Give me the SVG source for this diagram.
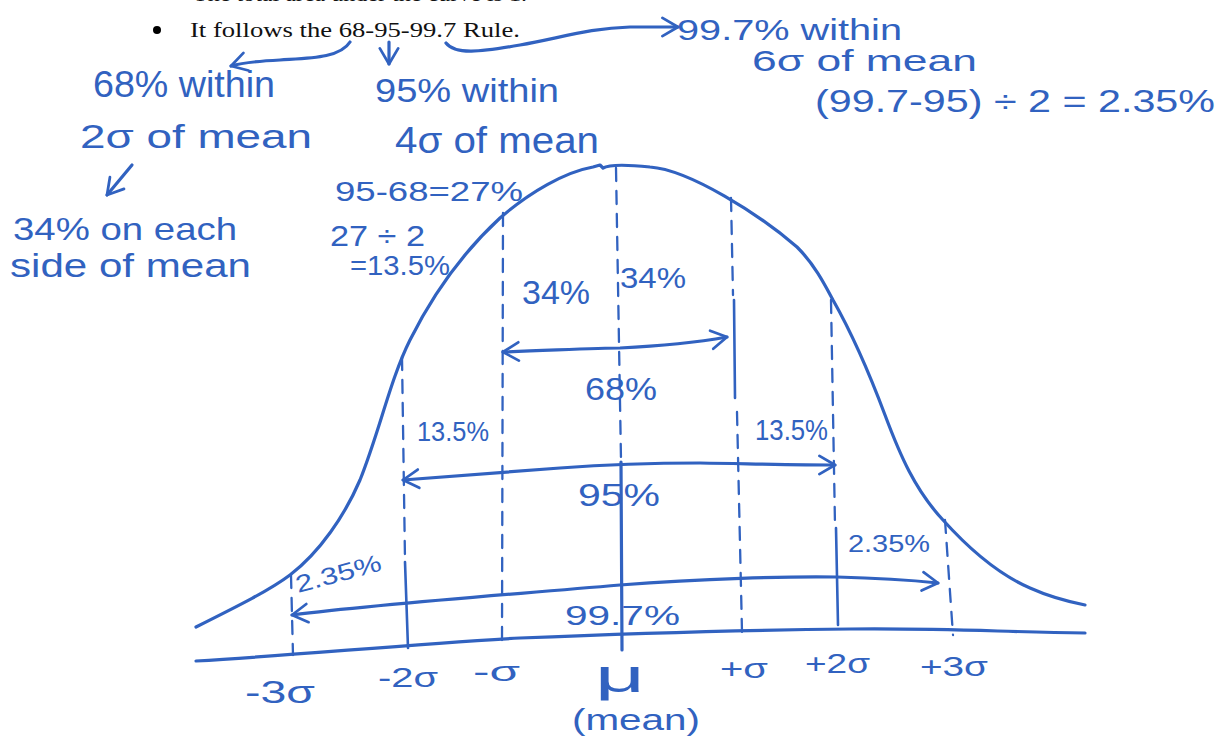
<svg xmlns="http://www.w3.org/2000/svg" width="1232" height="741" viewBox="0 0 1232 741">
<style>
.ink{fill:none;stroke:#3162c0;stroke-width:3.2;stroke-linecap:round;stroke-linejoin:round}
.thin{fill:none;stroke:#3162c0;stroke-width:2.6;stroke-linecap:round;stroke-linejoin:round}
.dash{fill:none;stroke:#3162c0;stroke-width:2.3;stroke-linecap:round;stroke-dasharray:13 10}
.hw{font-family:"Liberation Sans","DejaVu Sans",sans-serif;fill:#3162c0}
.pr{font-family:"Liberation Serif","Times New Roman",serif;fill:#111;font-size:22px}
</style>
<defs>
<marker id="ah" viewBox="0 0 24 24" refX="21" refY="12" markerWidth="22" markerHeight="22" markerUnits="userSpaceOnUse" orient="auto-start-reverse">
<path d="M4,2 L21,12 L4,22" fill="none" stroke="#3162c0" stroke-width="3" stroke-linecap="round" stroke-linejoin="round"/>
</marker>
</defs>
<rect width="1232" height="741" fill="#fff"/>
<g id="printed">
<text class="pr" x="193" y="1" textLength="334" lengthAdjust="spacingAndGlyphs">The total area under the curve is 1.</text>
<circle cx="157" cy="30" r="4" fill="#000"/>
<text class="pr" x="190" y="37" textLength="330" lengthAdjust="spacingAndGlyphs">It follows the 68-95-99.7 Rule.</text>
</g>
<g id="curve">
<path class="ink" d="M196,627 C240,605 270,590 290,575 C320,552 345,515 360,480 C380,430 390,380 410,340 C430,300 460,255 500,218 C530,192 565,172 593,167 L600,165 L603,168 C610,164 630,165 650,167 C690,170 760,215 797,247 C815,265 825,285 833,300 C850,330 870,375 885,415 C900,455 915,490 943,520 C970,550 1000,575 1030,588 C1050,597 1070,602 1085,605"/>
<path class="ink" d="M196,661 C300,655 400,645 520,638 C640,633 750,630 850,629 C950,628 1000,632 1085,633"/>
</g>
<g id="sigma-lines">
<path class="dash" d="M291,575 L293,655"/>
<path class="dash" d="M402,357 L405,560"/>
<path class="thin" d="M405,562 L408,648"/>
<path class="dash" d="M503,213 L502,640"/>
<path class="dash" d="M616,168 L621,460"/>
<path class="ink" d="M621,462 L622,650"/>
<path class="dash" d="M731,198 L733,295"/>
<path class="thin" d="M734,300 L735,398"/>
<path class="dash" d="M737,412 L742,632"/>
<path class="dash" d="M831,300 L835,525"/>
<path class="thin" d="M836,528 L838,625"/>
<path class="dash" d="M945,520 L953,635"/>
</g>
<g id="connectors">
<path class="ink" marker-end="url(#ah)" d="M350,42 C340,58 310,58 280,60 C260,61 245,62 231,66"/>
<path class="ink" marker-end="url(#ah)" d="M389,42 L389,64"/>
<path class="ink" marker-end="url(#ah)" d="M446,43 C455,55 480,52 520,45 C560,38 590,28 630,27 L678,27"/>
<path class="ink" marker-end="url(#ah)" d="M132,165 L107,195"/>
<path class="ink" marker-start="url(#ah)" marker-end="url(#ah)" d="M503,352 C560,350 600,348 620,348 C680,345 710,340 727,337"/>
<path class="ink" marker-start="url(#ah)" marker-end="url(#ah)" d="M403,480 C450,476 503,472 560,468 C600,465 640,463 700,463 C760,464 800,465 835,465"/>
<path class="ink" marker-start="url(#ah)" marker-end="url(#ah)" d="M292,615 C380,604 480,597 620,585 C700,579 790,576 837,577 C880,578 910,580 938,583"/>
</g>
<g id="notes-left">
<text class="hw" x="93" y="97" font-size="36" textLength="182" lengthAdjust="spacingAndGlyphs">68% within</text>
<text class="hw" x="80" y="148" font-size="34" textLength="232" lengthAdjust="spacingAndGlyphs">2σ of mean</text>
<text class="hw" x="13" y="240" font-size="32" textLength="224" lengthAdjust="spacingAndGlyphs">34% on each</text>
<text class="hw" x="10" y="277" font-size="34" textLength="241" lengthAdjust="spacingAndGlyphs">side of mean</text>
</g>
<g id="notes-middle">
<text class="hw" x="375" y="102" font-size="34" textLength="184" lengthAdjust="spacingAndGlyphs">95% within</text>
<text class="hw" x="395" y="153" font-size="36" textLength="204" lengthAdjust="spacingAndGlyphs">4σ of mean</text>
<text class="hw" x="335" y="201" font-size="28" textLength="188" lengthAdjust="spacingAndGlyphs">95-68=27%</text>
<text class="hw" x="330" y="246" font-size="30" textLength="95" lengthAdjust="spacingAndGlyphs">27 ÷ 2</text>
<text class="hw" x="350" y="275" font-size="28" textLength="100" lengthAdjust="spacingAndGlyphs">=13.5%</text>
</g>
<g id="notes-right">
<text class="hw" x="677" y="40" font-size="30" textLength="225" lengthAdjust="spacingAndGlyphs">99.7% within</text>
<text class="hw" x="752" y="71" font-size="30" textLength="225" lengthAdjust="spacingAndGlyphs">6σ of mean</text>
<text class="hw" x="815" y="112" font-size="32" textLength="400" lengthAdjust="spacingAndGlyphs">(99.7-95) ÷ 2 = 2.35%</text>
</g>
<g id="area-labels">
<text class="hw" x="522" y="304" font-size="34" textLength="68" lengthAdjust="spacingAndGlyphs">34%</text>
<text class="hw" x="620" y="288" font-size="30" textLength="66" lengthAdjust="spacingAndGlyphs">34%</text>
<text class="hw" x="585" y="400" font-size="32" textLength="72" lengthAdjust="spacingAndGlyphs">68%</text>
<text class="hw" x="417" y="441" font-size="28" textLength="72" lengthAdjust="spacingAndGlyphs">13.5%</text>
<text class="hw" x="755" y="440" font-size="30" textLength="73" lengthAdjust="spacingAndGlyphs">13.5%</text>
<text class="hw" x="578" y="506" font-size="32" textLength="82" lengthAdjust="spacingAndGlyphs">95%</text>
<text class="hw" x="848" y="552" font-size="24" textLength="82" lengthAdjust="spacingAndGlyphs">2.35%</text>
<text class="hw" x="298" y="593" font-size="24" textLength="88" lengthAdjust="spacingAndGlyphs" transform="rotate(-15 298 593)">2.35%</text>
<text class="hw" x="565" y="625" font-size="28" textLength="115" lengthAdjust="spacingAndGlyphs">99.7%</text>
</g>
<g id="axis-labels">
<text class="hw" x="245" y="703" font-size="32" textLength="70" lengthAdjust="spacingAndGlyphs">-3σ</text>
<text class="hw" x="378" y="687" font-size="28" textLength="60" lengthAdjust="spacingAndGlyphs">-2σ</text>
<text class="hw" x="473" y="681" font-size="28" textLength="47" lengthAdjust="spacingAndGlyphs">-σ</text>
<text class="hw" x="595" y="692" font-size="46" textLength="50" lengthAdjust="spacingAndGlyphs">μ</text>
<text class="hw" x="572" y="730" font-size="30" textLength="128" lengthAdjust="spacingAndGlyphs">(mean)</text>
<text class="hw" x="720" y="678" font-size="28" textLength="48" lengthAdjust="spacingAndGlyphs">+σ</text>
<text class="hw" x="805" y="673" font-size="28" textLength="65" lengthAdjust="spacingAndGlyphs">+2σ</text>
<text class="hw" x="920" y="676" font-size="28" textLength="68" lengthAdjust="spacingAndGlyphs">+3σ</text>
</g>
</svg>
